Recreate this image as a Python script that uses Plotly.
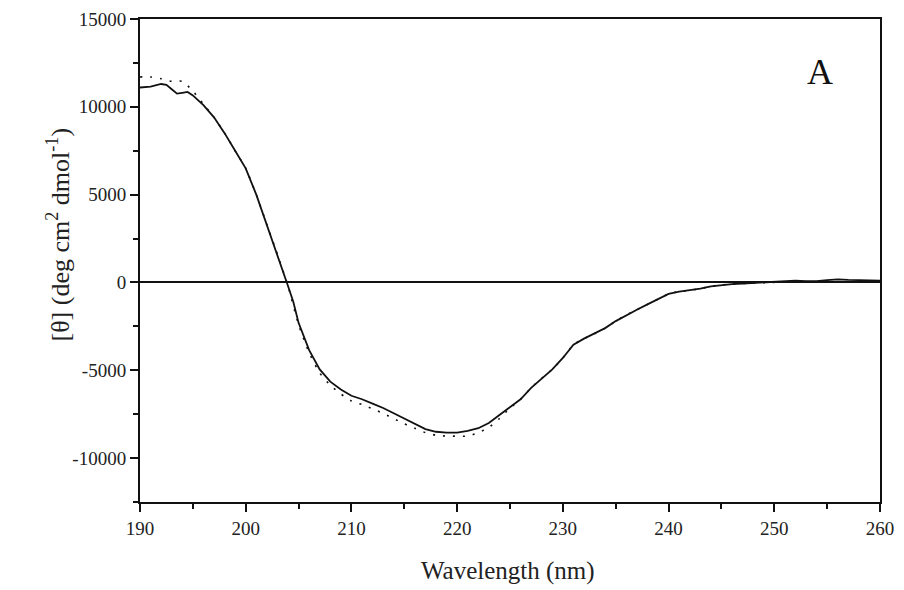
import plotly.graph_objects as go

# Measured CD spectrum (solid line)
wl_meas = [190, 191, 192, 192.5, 193, 193.5, 194, 194.5, 195, 196, 197, 198, 199, 200,
           201, 202, 203, 204, 204.5, 205, 206, 207, 208, 209, 210, 211, 212, 213, 214,
           215, 216, 217, 218, 219, 220, 221, 222, 223, 224, 225, 226, 227, 228, 229,
           230, 231, 232, 233, 234, 235, 236, 237, 238, 239, 240, 241, 242, 243, 244,
           245, 246, 247, 248, 249, 250, 251, 252, 253, 254, 255, 256, 257, 258, 259, 260]
theta_meas = [11100, 11150, 11300, 11250, 11000, 10750, 10800, 10850, 10650, 10100, 9400,
              8500, 7500, 6500, 5000, 3300, 1600, -200, -1100, -2300, -3850, -4950, -5650,
              -6100, -6450, -6650, -6900, -7150, -7450, -7750, -8050, -8350, -8500, -8550,
              -8550, -8450, -8300, -8000, -7550, -7100, -6650, -6000, -5450, -4950, -4300,
              -3550, -3200, -2920, -2600, -2200, -1850, -1550, -1250, -950, -650, -520,
              -450, -350, -220, -140, -90, -60, -30, 0, 30, 80, 100, 80, 70, 130, 180, 150,
              120, 120, 100]

# Fitted spectrum (dotted line)
wl_fit = [190, 191, 192, 193, 194, 195, 196, 197, 198, 199, 200, 201, 202, 203, 204, 205,
          206, 207, 208, 209, 210, 211, 212, 213, 214, 215, 216, 217, 218, 219, 220, 221,
          222, 223, 224, 225, 226, 227, 228, 229, 230, 231, 232, 233, 234, 235, 236, 237,
          238, 239, 240, 241, 242, 243, 244, 245, 246, 247, 248, 249, 250]
theta_fit = [11700, 11700, 11600, 11450, 11450, 10900, 10150, 9400, 8500, 7500, 6500, 5000,
             3300, 1600, -200, -2400, -4000, -5150, -5850, -6350, -6750, -6950, -7200,
             -7450, -7750, -8050, -8300, -8550, -8700, -8750, -8750, -8750, -8550, -8250,
             -7750, -7150, -6650, -6000, -5450, -4950, -4300, -3550, -3200, -2920, -2600,
             -2200, -1850, -1550, -1250, -950, -650, -520, -450, -350, -220, -140, -90,
             -60, -30, -10, 0]

x_ticks = [190, 200, 210, 220, 230, 240, 250, 260]
x_tick_labels = ["190", "200", "210", "220", "230", "240", "250", "260"]
y_ticks = [-10000, -5000, 0, 5000, 10000, 15000]
y_tick_labels = ["-10000", "-5000", "0", "5000", "10000", "15000"]

x_title = "Wavelength (nm)"
y_title = "[θ] (deg cm<sup>2</sup> dmol<sup>-1</sup>)"
panel_label = "A"

FONT = "Liberation Serif"
INK = "#111"
TXT = "#222"

fig = go.Figure()
fig.add_trace(go.Scatter(x=wl_fit, y=theta_fit, mode="lines",
                         line=dict(color=INK, width=1.6, dash="2px,8px", shape="spline", smoothing=0.6),
                         showlegend=False))
fig.add_trace(go.Scatter(x=wl_meas, y=theta_meas, mode="lines",
                         line=dict(color=INK, width=1.8),
                         showlegend=False))

fig.add_annotation(x=0.919, y=0.89, xref="paper", yref="paper", text=panel_label,
                   xanchor="center", yanchor="middle",
                   showarrow=False, font=dict(family=FONT, size=36, color=INK))
fig.add_annotation(x=0.497, y=-0.143, xref="paper", yref="paper", text=x_title,
                   xanchor="center", yanchor="middle", borderpad=0,
                   showarrow=False, font=dict(family=FONT, size=25, color=TXT))
fig.add_annotation(x=-0.11, y=0.553, xref="paper", yref="paper", text=y_title,
                   xanchor="center", yanchor="middle", textangle=-90,
                   showarrow=False, font=dict(family=FONT, size=26, color=TXT))

fig.update_layout(
    width=904, height=590,
    margin=dict(l=140, r=24, t=19, b=88),
    paper_bgcolor="white", plot_bgcolor="white",
    font=dict(family=FONT, size=19, color=TXT),
    xaxis=dict(range=[190, 260], tickvals=x_ticks, ticktext=x_tick_labels,
               automargin=False, showgrid=False, zeroline=False,
               showline=True, linecolor=INK, linewidth=2, mirror=True,
               ticks="outside", ticklen=8, tickwidth=1.5, tickcolor=INK,
               minor=dict(dtick=5, ticks="outside", ticklen=5, tickwidth=1.5, tickcolor=INK)),
    yaxis=dict(range=[-12500, 15000], tickvals=y_ticks, ticktext=y_tick_labels,
               automargin=False, showgrid=False,
               zeroline=True, zerolinecolor=INK, zerolinewidth=1.8,
               showline=True, linecolor=INK, linewidth=2, mirror=True,
               ticks="outside", ticklen=8, tickwidth=1.5, tickcolor=INK,
               minor=dict(dtick=2500, ticks="outside", ticklen=5, tickwidth=1.5, tickcolor=INK)),
)

fig.write_html("out.html", config={"displayModeBar": False},
               post_script="document.body.style.margin='0';document.body.style.overflow='hidden';")
